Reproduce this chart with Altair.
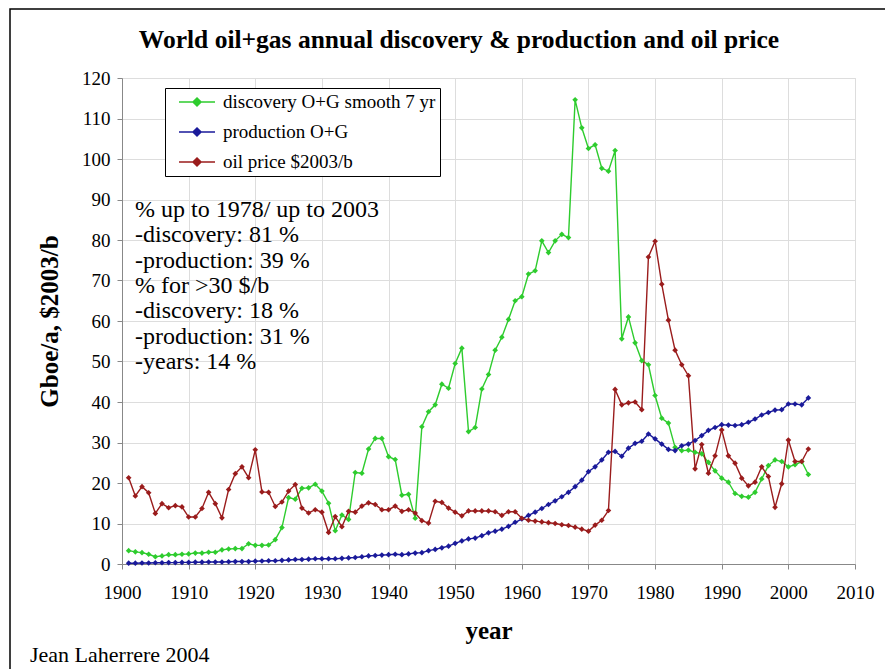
import altair as alt
import pandas as pd

years = list(range(1901, 2004))

discovery = [
    3.3, 3.0, 2.8, 2.4, 1.8, 2.0, 2.3, 2.3, 2.4, 2.5,
    2.7, 2.7, 2.9, 2.9, 3.5, 3.7, 3.8, 3.8, 5.0, 4.6,
    4.6, 4.7, 6.0, 9.0, 16.4, 16.0, 18.7, 18.8, 19.7, 18.0,
    15.0, 8.2, 12.1, 11.0, 22.6, 22.4, 28.4, 31.0, 31.0, 26.5,
    25.8, 17.0, 17.2, 11.3, 33.9, 37.6, 39.3, 44.4, 43.4, 49.5,
    53.3, 32.7, 33.7, 43.2, 46.8, 52.8, 56.0, 60.4, 65.0, 66.0,
    71.6, 72.4, 79.8, 76.9, 79.8, 81.4, 80.6, 114.6, 107.7, 102.6,
    103.5, 97.7, 97.0, 102.1, 55.6, 61.0, 54.6, 50.2, 49.2, 41.6,
    36.0, 34.8, 28.8, 28.0, 28.1, 27.6, 27.2, 25.1, 23.0, 21.2,
    20.2, 17.4, 16.7, 16.5, 17.7, 21.0, 24.3, 25.7, 25.3, 24.0,
    24.5, 25.3, 22.1,
]

production = [
    0.2, 0.2, 0.25, 0.25, 0.3, 0.3, 0.35, 0.35, 0.4, 0.4,
    0.45, 0.45, 0.5, 0.5, 0.5, 0.55, 0.6, 0.6, 0.6, 0.7,
    0.75, 0.8, 0.8, 0.9, 1.0, 1.1, 1.1, 1.2, 1.3, 1.3,
    1.3, 1.3, 1.4, 1.5, 1.6, 1.8, 2.0, 2.1, 2.2, 2.3,
    2.4, 2.3, 2.5, 2.7, 2.8, 3.3, 3.6, 4.0, 4.4, 5.1,
    5.7, 6.2, 6.4, 7.0, 7.7, 8.1, 8.6, 9.3, 10.3, 11.1,
    12.0, 12.8, 13.7, 14.7, 15.6, 16.6, 17.7, 19.1, 20.7, 22.8,
    24.0, 25.7, 27.6, 27.8, 26.6, 28.6, 29.8, 30.3, 32.1, 30.9,
    29.6, 28.3, 28.0, 29.2, 29.6, 30.5, 31.7, 33.0, 33.7, 34.4,
    34.3, 34.2, 34.4, 35.0, 35.8, 36.8, 37.4, 38.0, 38.1, 39.5,
    39.5, 39.3, 41.0,
]

oil_price = [
    21.3, 16.8, 19.1, 17.6, 12.5, 14.9, 13.9, 14.4, 14.1, 11.6,
    11.6, 13.7, 17.7, 14.9, 11.4, 18.4, 22.3, 24.0, 21.3, 28.2,
    17.8, 17.7, 14.2, 15.3, 18.0, 19.6, 13.8, 12.6, 13.4, 12.8,
    7.8, 11.7, 9.2, 13.0, 12.8, 14.3, 15.1, 14.7, 13.4, 13.4,
    14.3, 13.0, 13.4, 12.6, 10.7, 10.1, 15.5, 15.2, 13.8, 12.8,
    11.9, 13.1, 13.1, 13.1, 13.1, 12.9, 12.0, 12.9, 12.9, 11.3,
    10.8, 10.6, 10.4, 10.2, 10.0, 9.7, 9.5, 9.1, 8.6, 8.1,
    9.6, 10.8, 13.2, 43.1, 39.3, 39.8, 40.0, 38.1, 75.8, 79.7,
    69.1, 60.2, 52.8, 49.2, 46.5, 23.5, 29.5, 22.4, 26.7, 33.1,
    26.7, 24.9, 21.2, 19.3, 20.2, 24.0, 21.6, 14.0, 19.8, 30.6,
    25.3, 25.3, 28.4,
]

series_names = ["discovery O+G smooth 7 yr", "production O+G", "oil price $2003/b"]
series_colors = ["#2ecc2e", "#1a1a9a", "#9a1c1c"]

x_ticks = list(range(1900, 2011, 10))
y_ticks = list(range(0, 121, 10))

note_lines = [
    "% up to 1978/ up to 2003",
    "-discovery: 81 %",
    "-production: 39 %",
    "% for >30 $/b",
    "-discovery: 18 %",
    "-production: 31 %",
    "-years: 14 %",
]
title_text = "World oil+gas annual discovery & production and oil price"
credit_text = "Jean Laherrere 2004"

rows = []
for name, vals in zip(series_names, [discovery, production, oil_price]):
    for yr, v in zip(years, vals):
        rows.append({"year": yr, "value": v, "series": name})
df = pd.DataFrame(rows)
one = pd.DataFrame({"k": [0]})

SERIF = "Liberation Serif"

x_enc = alt.X(
    "year:Q",
    scale=alt.Scale(domain=[1900, 2010], nice=False, zero=False),
    axis=alt.Axis(
        values=x_ticks, format="d", title="year", grid=True,
        labelFont=SERIF, labelFontSize=19, labelColor="black",
        titleFont=SERIF, titleFontSize=25, titleFontWeight="bold", titleColor="black",
        labelPadding=14, titlePadding=16, tickSize=5, labelFlush=False,
    ),
)
y_enc = alt.Y(
    "value:Q",
    scale=alt.Scale(domain=[0, 120], nice=False),
    axis=alt.Axis(
        values=y_ticks, title="Gboe/a, $2003/b", grid=True,
        labelFont=SERIF, labelFontSize=19, labelColor="black",
        titleFont=SERIF, titleFontSize=25, titleFontWeight="bold", titleColor="black",
        labelPadding=7, titlePadding=19, tickSize=5,
    ),
)

color_legend = alt.Color(
    "series:N",
    scale=alt.Scale(domain=series_names, range=series_colors),
    legend=alt.Legend(
        title=None, orient="none", legendX=43, legendY=10,
        strokeColor="black", fillColor="white", padding=4,
        labelFont=SERIF, labelFontSize=19, labelColor="black", labelLimit=400,
        symbolType="M0,0H4M2,-0.44L2.44,0L2,0.44L1.56,0Z",
        symbolSize=324, symbolStrokeWidth=1.6, rowPadding=10, labelOffset=34,
    ),
)

lines = alt.Chart(df).mark_line(strokeWidth=1.4).encode(
    x=x_enc, y=y_enc, color=color_legend,
)
points = alt.Chart(df).mark_point(shape="diamond", filled=True, size=32, opacity=1).encode(
    x=x_enc, y=y_enc,
    color=alt.Color("series:N", scale=alt.Scale(domain=series_names, range=series_colors), legend=None),
)

note = alt.Chart(one).mark_text(
    text=note_lines, align="left", baseline="top", font=SERIF, fontSize=24,
    lineHeight=25.3, color="black",
).encode(x=alt.value(13), y=alt.value(120))

credit = alt.Chart(one).mark_text(
    text=credit_text, align="left", baseline="middle", font=SERIF, fontSize=22, color="black",
).encode(x=alt.value(-92), y=alt.value(577))

title = alt.Chart(one).mark_text(
    text=title_text, align="center", baseline="middle", font=SERIF, fontSize=25.5,
    fontWeight="bold", color="black",
).encode(x=alt.value(337), y=alt.value(-38))

frame = alt.Chart(one).mark_rect(fillOpacity=0, stroke="black", strokeWidth=1.5).encode(
    x=alt.value(-112), x2=alt.value(900), y=alt.value(-69), y2=alt.value(900),
)

chart = alt.layer(frame, lines, points, note, credit, title).properties(
    width=733, height=486,
    padding={"left": 114, "top": 70, "right": 30, "bottom": 105},
    autosize=alt.AutoSizeParams(type="none"),
).configure_view(
    stroke="#808080", strokeWidth=1.2
).configure_axis(
    gridColor="#d9d9d9", domainColor="#808080", tickColor="#808080",
).configure(background="white")

chart.save("out.html", embed_options={"renderer": "svg", "actions": False})
